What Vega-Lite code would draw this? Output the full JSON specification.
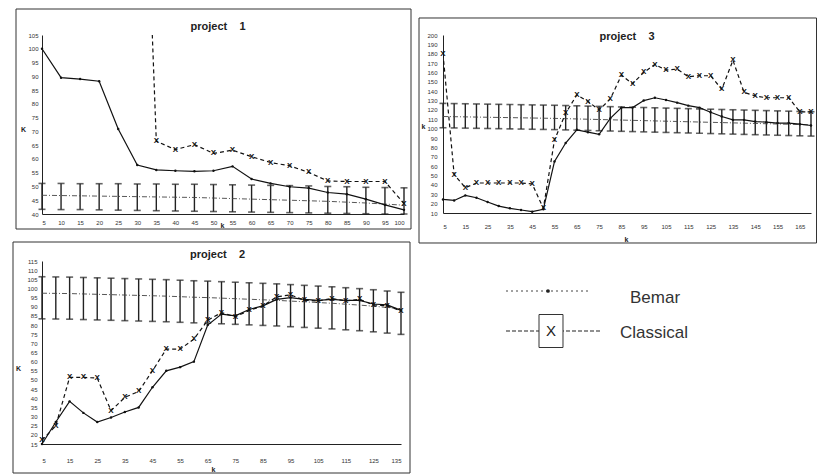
{
  "$schema": "https://vega.github.io/schema/vega-lite/v6.json",
  "padding": {"left": 12, "top": 8, "right": 0, "bottom": 0},
  "background": "white",
  "config": {
    "view": {"stroke": null},
    "font": "Liberation Sans",
    "axis": {"domainColor": "#222", "domainWidth": 1, "ticks": false, "tickSize": 0, "grid": false, "labelFontSize": 6, "labelColor": "#333", "labelFont": "Liberation Sans", "titleFontSize": 7, "titleFontWeight": "bold", "titleColor": "#222", "labelOverlap": false, "labelAngle": 0, "tickCount": 100, "format": "d"}
  },
  "datasets": {
    "p1": [
      {"k":5,"bemar":100,"classical":null,"actual":46.8,"lo":41.7,"hi":51.1},
      {"k":10,"bemar":89.5,"classical":null,"actual":46.7,"lo":41.6,"hi":51.1},
      {"k":15,"bemar":89,"classical":null,"actual":46.6,"lo":41.6,"hi":51.0},
      {"k":20,"bemar":88.2,"classical":null,"actual":46.5,"lo":41.5,"hi":51.0},
      {"k":25,"bemar":70.9,"classical":null,"actual":46.4,"lo":41.4,"hi":51.0},
      {"k":30,"bemar":57.8,"classical":250,"actual":46.3,"lo":41.3,"hi":50.9},
      {"k":35,"bemar":56,"classical":66.4,"actual":46.2,"lo":41.2,"hi":50.9},
      {"k":40,"bemar":55.7,"classical":63.4,"actual":46.1,"lo":41.1,"hi":50.8},
      {"k":45,"bemar":55.5,"classical":65.2,"actual":46.0,"lo":41.0,"hi":50.8},
      {"k":50,"bemar":55.7,"classical":62,"actual":45.8,"lo":40.9,"hi":50.7},
      {"k":55,"bemar":57.3,"classical":63.2,"actual":45.6,"lo":40.8,"hi":50.6},
      {"k":60,"bemar":52.7,"classical":60.8,"actual":45.4,"lo":40.7,"hi":50.5},
      {"k":65,"bemar":51.1,"classical":58.7,"actual":45.2,"lo":40.6,"hi":50.4},
      {"k":70,"bemar":49.9,"classical":57.5,"actual":45.0,"lo":40.5,"hi":50.3},
      {"k":75,"bemar":49.4,"classical":55.1,"actual":44.8,"lo":40.4,"hi":50.2},
      {"k":80,"bemar":47.8,"classical":52,"actual":44.6,"lo":40.3,"hi":50.0},
      {"k":85,"bemar":47.2,"classical":51.8,"actual":44.3,"lo":40.2,"hi":49.9},
      {"k":90,"bemar":45.4,"classical":51.8,"actual":44.0,"lo":40.1,"hi":49.7},
      {"k":95,"bemar":43.3,"classical":51.8,"actual":43.6,"lo":40.0,"hi":49.6},
      {"k":100,"bemar":41.5,"classical":43.8,"actual":43.2,"lo":40.0,"hi":49.5}
    ],
    "p3": [
      {"k":5,"bemar":24.5,"classical":180,"actual":113,"lo":101,"hi":127},
      {"k":10,"bemar":23.4,"classical":51,"actual":112.8,"lo":100.8,"hi":126.8},
      {"k":15,"bemar":28.8,"classical":37,"actual":112.6,"lo":100.6,"hi":126.6},
      {"k":20,"bemar":26.3,"classical":42,"actual":112.4,"lo":100.4,"hi":126.4},
      {"k":25,"bemar":21.7,"classical":42,"actual":112.2,"lo":100.2,"hi":126.2},
      {"k":30,"bemar":17.4,"classical":42,"actual":112,"lo":100,"hi":126},
      {"k":35,"bemar":15,"classical":42,"actual":111.8,"lo":99.8,"hi":125.8},
      {"k":40,"bemar":13.2,"classical":42,"actual":111.6,"lo":99.6,"hi":125.6},
      {"k":45,"bemar":11.4,"classical":41,"actual":111.4,"lo":99.4,"hi":125.4},
      {"k":50,"bemar":14,"classical":15,"actual":111.2,"lo":99.2,"hi":125.2},
      {"k":55,"bemar":65,"classical":88,"actual":111,"lo":99,"hi":125},
      {"k":60,"bemar":84.7,"classical":116.5,"actual":110.7,"lo":98.7,"hi":124.7},
      {"k":65,"bemar":98.8,"classical":136,"actual":110.4,"lo":98.4,"hi":124.4},
      {"k":70,"bemar":96.3,"classical":129,"actual":110.1,"lo":98.1,"hi":124.1},
      {"k":75,"bemar":94,"classical":120,"actual":109.8,"lo":97.8,"hi":123.8},
      {"k":80,"bemar":111,"classical":131.7,"actual":109.5,"lo":97.5,"hi":123.5},
      {"k":85,"bemar":122.5,"classical":157,"actual":109.2,"lo":97.2,"hi":123.2},
      {"k":90,"bemar":122.5,"classical":148,"actual":108.9,"lo":96.9,"hi":122.9},
      {"k":95,"bemar":130,"classical":160,"actual":108.6,"lo":96.6,"hi":122.6},
      {"k":100,"bemar":133,"classical":168.5,"actual":108.3,"lo":96.3,"hi":122.3},
      {"k":105,"bemar":130.6,"classical":162.5,"actual":108,"lo":96,"hi":122},
      {"k":110,"bemar":127.8,"classical":163.6,"actual":107.7,"lo":95.7,"hi":121.7},
      {"k":115,"bemar":124.6,"classical":155.5,"actual":107.4,"lo":95.4,"hi":121.4},
      {"k":120,"bemar":122.5,"classical":156.5,"actual":107.1,"lo":95.1,"hi":121.1},
      {"k":125,"bemar":117.5,"classical":156.5,"actual":106.8,"lo":94.8,"hi":120.8},
      {"k":130,"bemar":113,"classical":142,"actual":106.5,"lo":94.5,"hi":120.5},
      {"k":135,"bemar":109.4,"classical":173,"actual":106.2,"lo":94.2,"hi":120.2},
      {"k":140,"bemar":109.4,"classical":138.8,"actual":105.9,"lo":93.9,"hi":119.9},
      {"k":145,"bemar":107.6,"classical":135,"actual":105.6,"lo":93.6,"hi":119.6},
      {"k":150,"bemar":107,"classical":133,"actual":105.3,"lo":93.3,"hi":119.3},
      {"k":155,"bemar":106,"classical":133,"actual":105,"lo":93,"hi":119},
      {"k":160,"bemar":106,"classical":133,"actual":104.7,"lo":92.7,"hi":118.7},
      {"k":165,"bemar":104.8,"classical":118,"actual":104.4,"lo":92.4,"hi":118.4},
      {"k":170,"bemar":103.4,"classical":118,"actual":104.1,"lo":92.1,"hi":118.1}
    ],
    "p2": [
      {"k":5,"bemar":15,"classical":17,"actual":97.4,"lo":83.4,"hi":106.4},
      {"k":10,"bemar":27,"classical":25,"actual":97.3,"lo":83.3,"hi":106.3},
      {"k":15,"bemar":38.3,"classical":51.4,"actual":97.2,"lo":83.2,"hi":106.2},
      {"k":20,"bemar":32,"classical":51.4,"actual":97.0,"lo":83.0,"hi":106.0},
      {"k":25,"bemar":27,"classical":51,"actual":96.8,"lo":82.8,"hi":105.8},
      {"k":30,"bemar":29.5,"classical":33.2,"actual":96.6,"lo":82.6,"hi":105.6},
      {"k":35,"bemar":32.5,"classical":40.5,"actual":96.4,"lo":82.4,"hi":105.4},
      {"k":40,"bemar":35,"classical":43.7,"actual":96.2,"lo":82.2,"hi":105.2},
      {"k":45,"bemar":46,"classical":55,"actual":96.0,"lo":82.0,"hi":105.0},
      {"k":50,"bemar":55,"classical":66.8,"actual":95.8,"lo":81.8,"hi":104.8},
      {"k":55,"bemar":57,"classical":66.8,"actual":95.5,"lo":81.5,"hi":104.5},
      {"k":60,"bemar":60,"classical":72.3,"actual":95.2,"lo":81.2,"hi":104.2},
      {"k":65,"bemar":80,"classical":82.6,"actual":95.0,"lo":81.0,"hi":104.0},
      {"k":70,"bemar":86,"classical":86.8,"actual":94.7,"lo":80.7,"hi":103.7},
      {"k":75,"bemar":85,"classical":84.5,"actual":94.4,"lo":80.4,"hi":103.4},
      {"k":80,"bemar":88.5,"classical":88,"actual":94.1,"lo":80.1,"hi":103.1},
      {"k":85,"bemar":90.5,"classical":90.5,"actual":93.8,"lo":79.8,"hi":102.8},
      {"k":90,"bemar":94,"classical":95.4,"actual":93.5,"lo":79.5,"hi":102.5},
      {"k":95,"bemar":95,"classical":96.5,"actual":93.1,"lo":79.1,"hi":102.1},
      {"k":100,"bemar":94,"classical":93.5,"actual":92.7,"lo":78.7,"hi":101.7},
      {"k":105,"bemar":93.5,"classical":93.2,"actual":92.3,"lo":78.3,"hi":101.3},
      {"k":110,"bemar":94,"classical":94.5,"actual":91.9,"lo":77.9,"hi":100.9},
      {"k":115,"bemar":93.5,"classical":93.2,"actual":91.4,"lo":77.4,"hi":100.4},
      {"k":120,"bemar":93.5,"classical":94,"actual":90.9,"lo":76.9,"hi":99.9},
      {"k":125,"bemar":91.5,"classical":91,"actual":90.3,"lo":76.3,"hi":99.3},
      {"k":130,"bemar":91,"classical":90.5,"actual":89.6,"lo":75.6,"hi":98.6},
      {"k":135,"bemar":88,"classical":87.7,"actual":88.9,"lo":74.9,"hi":97.9}
    ],
    "legend": [{"series": "Bemar"}, {"series": "Classical"}]
  },
  "columns": 2,
  "bounds": "flush",
  "align": "each",
  "spacing": {"row": 47, "column": 39},
  "concat": [
    {
      "width": 362, "height": 179,
      "title": {"text": "project\u00a0\u00a0\u00a0\u00a01", "fontSize": 11, "fontWeight": "bold", "color": "#222", "offset": -23, "dx": -5, "anchor": "middle", "frame": "group"},
      "data": {"name": "p1"},
      "encoding": {
        "x": {"field": "k", "type": "quantitative", "scale": {"domain": [5, 100], "nice": false, "zero": false},
              "axis": {"values": [5,10,15,20,25,30,35,40,45,50,55,60,65,70,75,80,85,90,95,100], "tickCount": 100, "title": "k", "titleX": 180, "titleY": 11, "titleAlign": "center", "titleBaseline": "middle", "labelPadding": 5, "labelOverlap": false}}
      },
      "layer": [
        {"transform": [{"filter": "datum.k === 5"}],
         "mark": {"type": "rect", "filled": false, "color": "#333", "strokeWidth": 1, "clip": false},
         "encoding": {"x": {"datum": -1.82, "type": "quantitative", "scale": {"domain": [5, 100], "nice": false, "zero": false}}, "x2": {"datum": 101.84},
                      "y": {"datum": 34.55, "type": "quantitative", "scale": {"domain": [40, 105], "nice": false, "zero": false}}, "y2": {"datum": 114.44}}},
        {"mark": {"type": "errorbar", "color": "#222", "ticks": {"size": 7, "thickness": 1.6}, "rule": {"strokeWidth": 1.4}},
         "encoding": {"y": {"field": "lo", "type": "quantitative", "scale": {"domain": [40, 105], "nice": false, "zero": false},
                            "axis": {"values": [40,45,50,55,60,65,70,75,80,85,90,95,100,105], "tickCount": 100, "format": "d", "title": "K", "titleAngle": 0, "titleX": -19, "titleY": 94, "titleAlign": "center", "titleBaseline": "middle", "labelPadding": 4, "labelOverlap": false, "labelBaseline": "middle"}},
                      "y2": {"field": "hi"}}},
        {"mark": {"type": "line", "color": "#444", "strokeWidth": 0.9, "strokeDash": [5, 2, 1, 2]},
         "encoding": {"y": {"field": "actual", "type": "quantitative", "scale": {"domain": [40, 105], "nice": false, "zero": false}}}},
        {"mark": {"type": "line", "color": "#111", "strokeWidth": 1.2, "point": {"filled": true, "size": 6, "color": "#111"}},
         "encoding": {"y": {"field": "bemar", "type": "quantitative", "scale": {"domain": [40, 105], "nice": false, "zero": false}}}},
        {"mark": {"type": "line", "color": "#111", "strokeWidth": 1.2, "strokeDash": [4, 3], "clip": true},
         "encoding": {"y": {"field": "classical", "type": "quantitative", "scale": {"domain": [40, 105], "nice": false, "zero": false}}}},
        {"transform": [{"filter": "datum.classical != null && datum.classical <= 105"}],
         "mark": {"type": "text", "text": "X", "fontSize": 8, "fontWeight": "bold", "color": "#111"},
         "encoding": {"y": {"field": "classical", "type": "quantitative", "scale": {"domain": [40, 105], "nice": false, "zero": false}}}}
      ]
    },
    {
      "width": 368, "height": 178,
      "title": {"text": "project\u00a0\u00a0\u00a0\u00a03", "fontSize": 11, "fontWeight": "bold", "color": "#222", "offset": -25, "anchor": "middle", "frame": "group"},
      "data": {"name": "p3"},
      "encoding": {
        "x": {"field": "k", "type": "quantitative", "scale": {"domain": [5, 170], "nice": false, "zero": false},
              "axis": {"values": [5,15,25,35,45,55,65,75,85,95,105,115,125,135,145,155,165], "tickCount": 100, "title": "k", "titleX": 183, "titleY": 26, "titleAlign": "center", "titleBaseline": "middle", "labelPadding": 10, "labelOverlap": false}}
      },
      "layer": [
        {"transform": [{"filter": "datum.k === 5"}],
         "mark": {"type": "rect", "filled": false, "color": "#333", "strokeWidth": 1, "clip": false},
         "encoding": {"x": {"datum": -5.76, "type": "quantitative", "scale": {"domain": [5, 170], "nice": false, "zero": false}}, "x2": {"datum": 172.47},
                      "y": {"datum": -22.02, "type": "quantitative", "scale": {"domain": [10, 200], "nice": false, "zero": false}}, "y2": {"datum": 218.15}}},
        {"mark": {"type": "errorbar", "color": "#222", "ticks": {"size": 7, "thickness": 1.6}, "rule": {"strokeWidth": 1.4}},
         "encoding": {"y": {"field": "lo", "type": "quantitative", "scale": {"domain": [10, 200], "nice": false, "zero": false},
                            "axis": {"values": [10,20,30,40,50,60,70,80,90,100,110,120,130,140,150,160,170,180,190,200], "tickCount": 100, "format": "d", "title": "k", "titleAngle": 0, "titleX": -20, "titleY": 91, "titleAlign": "center", "titleBaseline": "middle", "labelPadding": 6, "labelOverlap": false, "labelBaseline": "middle"}},
                      "y2": {"field": "hi"}}},
        {"mark": {"type": "line", "color": "#444", "strokeWidth": 0.9, "strokeDash": [5, 2, 1, 2]},
         "encoding": {"y": {"field": "actual", "type": "quantitative", "scale": {"domain": [10, 200], "nice": false, "zero": false}}}},
        {"mark": {"type": "line", "color": "#111", "strokeWidth": 1.2, "point": {"filled": true, "size": 6, "color": "#111"}},
         "encoding": {"y": {"field": "bemar", "type": "quantitative", "scale": {"domain": [10, 200], "nice": false, "zero": false}}}},
        {"mark": {"type": "line", "color": "#111", "strokeWidth": 1.2, "strokeDash": [4, 3], "clip": true},
         "encoding": {"y": {"field": "classical", "type": "quantitative", "scale": {"domain": [10, 200], "nice": false, "zero": false}}}},
        {"mark": {"type": "text", "text": "X", "fontSize": 8, "fontWeight": "bold", "color": "#111"},
         "encoding": {"y": {"field": "classical", "type": "quantitative", "scale": {"domain": [10, 200], "nice": false, "zero": false}}}}
      ]
    },
    {
      "width": 359, "height": 183,
      "title": {"text": "project\u00a0\u00a0\u00a0\u00a02", "fontSize": 11, "fontWeight": "bold", "color": "#222", "offset": -18, "dx": -4, "anchor": "middle", "frame": "group"},
      "data": {"name": "p2"},
      "encoding": {
        "x": {"field": "k", "type": "quantitative", "scale": {"domain": [5, 135], "nice": false, "zero": false},
              "axis": {"values": [5,15,25,35,45,55,65,75,85,95,105,115,125,135], "tickCount": 100, "title": "k", "titleX": 171, "titleY": 25, "titleAlign": "center", "titleBaseline": "middle", "labelPadding": 13, "labelOverlap": false}}
      },
      "layer": [
        {"transform": [{"filter": "datum.k === 5"}],
         "mark": {"type": "rect", "filled": false, "color": "#333", "strokeWidth": 1, "clip": false},
         "encoding": {"x": {"datum": -5.5, "type": "quantitative", "scale": {"domain": [5, 135], "nice": false, "zero": false}}, "x2": {"datum": 138.26},
                      "y": {"datum": -0.85, "type": "quantitative", "scale": {"domain": [15, 115], "nice": false, "zero": false}}, "y2": {"datum": 125.38}}},
        {"mark": {"type": "errorbar", "color": "#222", "ticks": {"size": 7, "thickness": 1.6}, "rule": {"strokeWidth": 1.4}},
         "encoding": {"y": {"field": "lo", "type": "quantitative", "scale": {"domain": [15, 115], "nice": false, "zero": false},
                            "axis": {"values": [15,20,25,30,35,40,45,50,55,60,65,70,75,80,85,90,95,100,105,110,115], "tickCount": 100, "format": "d", "title": "K", "titleAngle": 0, "titleX": -24, "titleY": 107, "titleAlign": "center", "titleBaseline": "middle", "labelPadding": 5, "labelOverlap": false, "labelBaseline": "middle"}},
                      "y2": {"field": "hi"}}},
        {"mark": {"type": "line", "color": "#444", "strokeWidth": 0.9, "strokeDash": [5, 2, 1, 2]},
         "encoding": {"y": {"field": "actual", "type": "quantitative", "scale": {"domain": [15, 115], "nice": false, "zero": false}}}},
        {"mark": {"type": "line", "color": "#111", "strokeWidth": 1.2, "point": {"filled": true, "size": 6, "color": "#111"}},
         "encoding": {"y": {"field": "bemar", "type": "quantitative", "scale": {"domain": [15, 115], "nice": false, "zero": false}}}},
        {"mark": {"type": "line", "color": "#111", "strokeWidth": 1.2, "strokeDash": [4, 3], "clip": true},
         "encoding": {"y": {"field": "classical", "type": "quantitative", "scale": {"domain": [15, 115], "nice": false, "zero": false}}}},
        {"mark": {"type": "text", "text": "X", "fontSize": 8, "fontWeight": "bold", "color": "#111"},
         "encoding": {"y": {"field": "classical", "type": "quantitative", "scale": {"domain": [15, 115], "nice": false, "zero": false}}}}
      ]
    },
    {
      "width": 300, "height": 120,
      "data": {"name": "legend"},
      "encoding": {
        "x": {"datum": 0, "type": "quantitative", "scale": {"domain": [0, 300], "nice": false, "zero": false}, "axis": null},
        "y": {"datum": 0, "type": "quantitative", "scale": {"domain": [0, 120], "nice": false, "zero": false, "reverse": true}, "axis": null}
      },
      "layer": [
        {"transform": [{"filter": "datum.series === 'Bemar'"}],
         "mark": {"type": "rule", "strokeWidth": 1, "color": "#444", "strokeDash": [2, 3], "clip": false},
         "encoding": {"x": {"datum": 63, "type": "quantitative"}, "x2": {"datum": 148}, "y": {"datum": 30, "type": "quantitative"}}},
        {"transform": [{"filter": "datum.series === 'Classical'"}],
         "mark": {"type": "rule", "strokeWidth": 1.2, "color": "#222", "strokeDash": [4, 2], "clip": false},
         "encoding": {"x": {"datum": 63, "type": "quantitative"}, "x2": {"datum": 158}, "y": {"datum": 70, "type": "quantitative"}}},
        {"transform": [{"filter": "datum.series === 'Bemar'"}],
         "mark": {"type": "point", "filled": true, "size": 14, "color": "#222", "opacity": 1, "clip": false},
         "encoding": {"x": {"datum": 105, "type": "quantitative"}, "y": {"datum": 30, "type": "quantitative"}}},
        {"transform": [{"filter": "datum.series === 'Classical'"}],
         "mark": {"type": "point", "shape": "M-0.727,-1L0.727,-1L0.727,1L-0.727,1Z", "size": 1089, "filled": true, "fill": "white", "stroke": "#333", "strokeWidth": 1, "opacity": 1, "clip": false},
         "encoding": {"x": {"datum": 108, "type": "quantitative"}, "y": {"datum": 70, "type": "quantitative"}}},
        {"transform": [{"filter": "datum.series === 'Classical'"}],
         "mark": {"type": "text", "text": "X", "fontSize": 15, "color": "#222", "baseline": "middle", "clip": false},
         "encoding": {"x": {"datum": 108, "type": "quantitative"}, "y": {"datum": 70, "type": "quantitative"}}},
        {"transform": [{"filter": "datum.series === 'Bemar'"}],
         "mark": {"type": "text", "fontSize": 17, "color": "#333", "align": "left", "baseline": "middle", "clip": false},
         "encoding": {"x": {"datum": 187, "type": "quantitative"}, "y": {"datum": 37, "type": "quantitative"}, "text": {"field": "series"}}},
        {"transform": [{"filter": "datum.series === 'Classical'"}],
         "mark": {"type": "text", "fontSize": 17, "color": "#333", "align": "left", "baseline": "middle", "clip": false},
         "encoding": {"x": {"datum": 177, "type": "quantitative"}, "y": {"datum": 72, "type": "quantitative"}, "text": {"field": "series"}}}
      ]
    }
  ]
}
